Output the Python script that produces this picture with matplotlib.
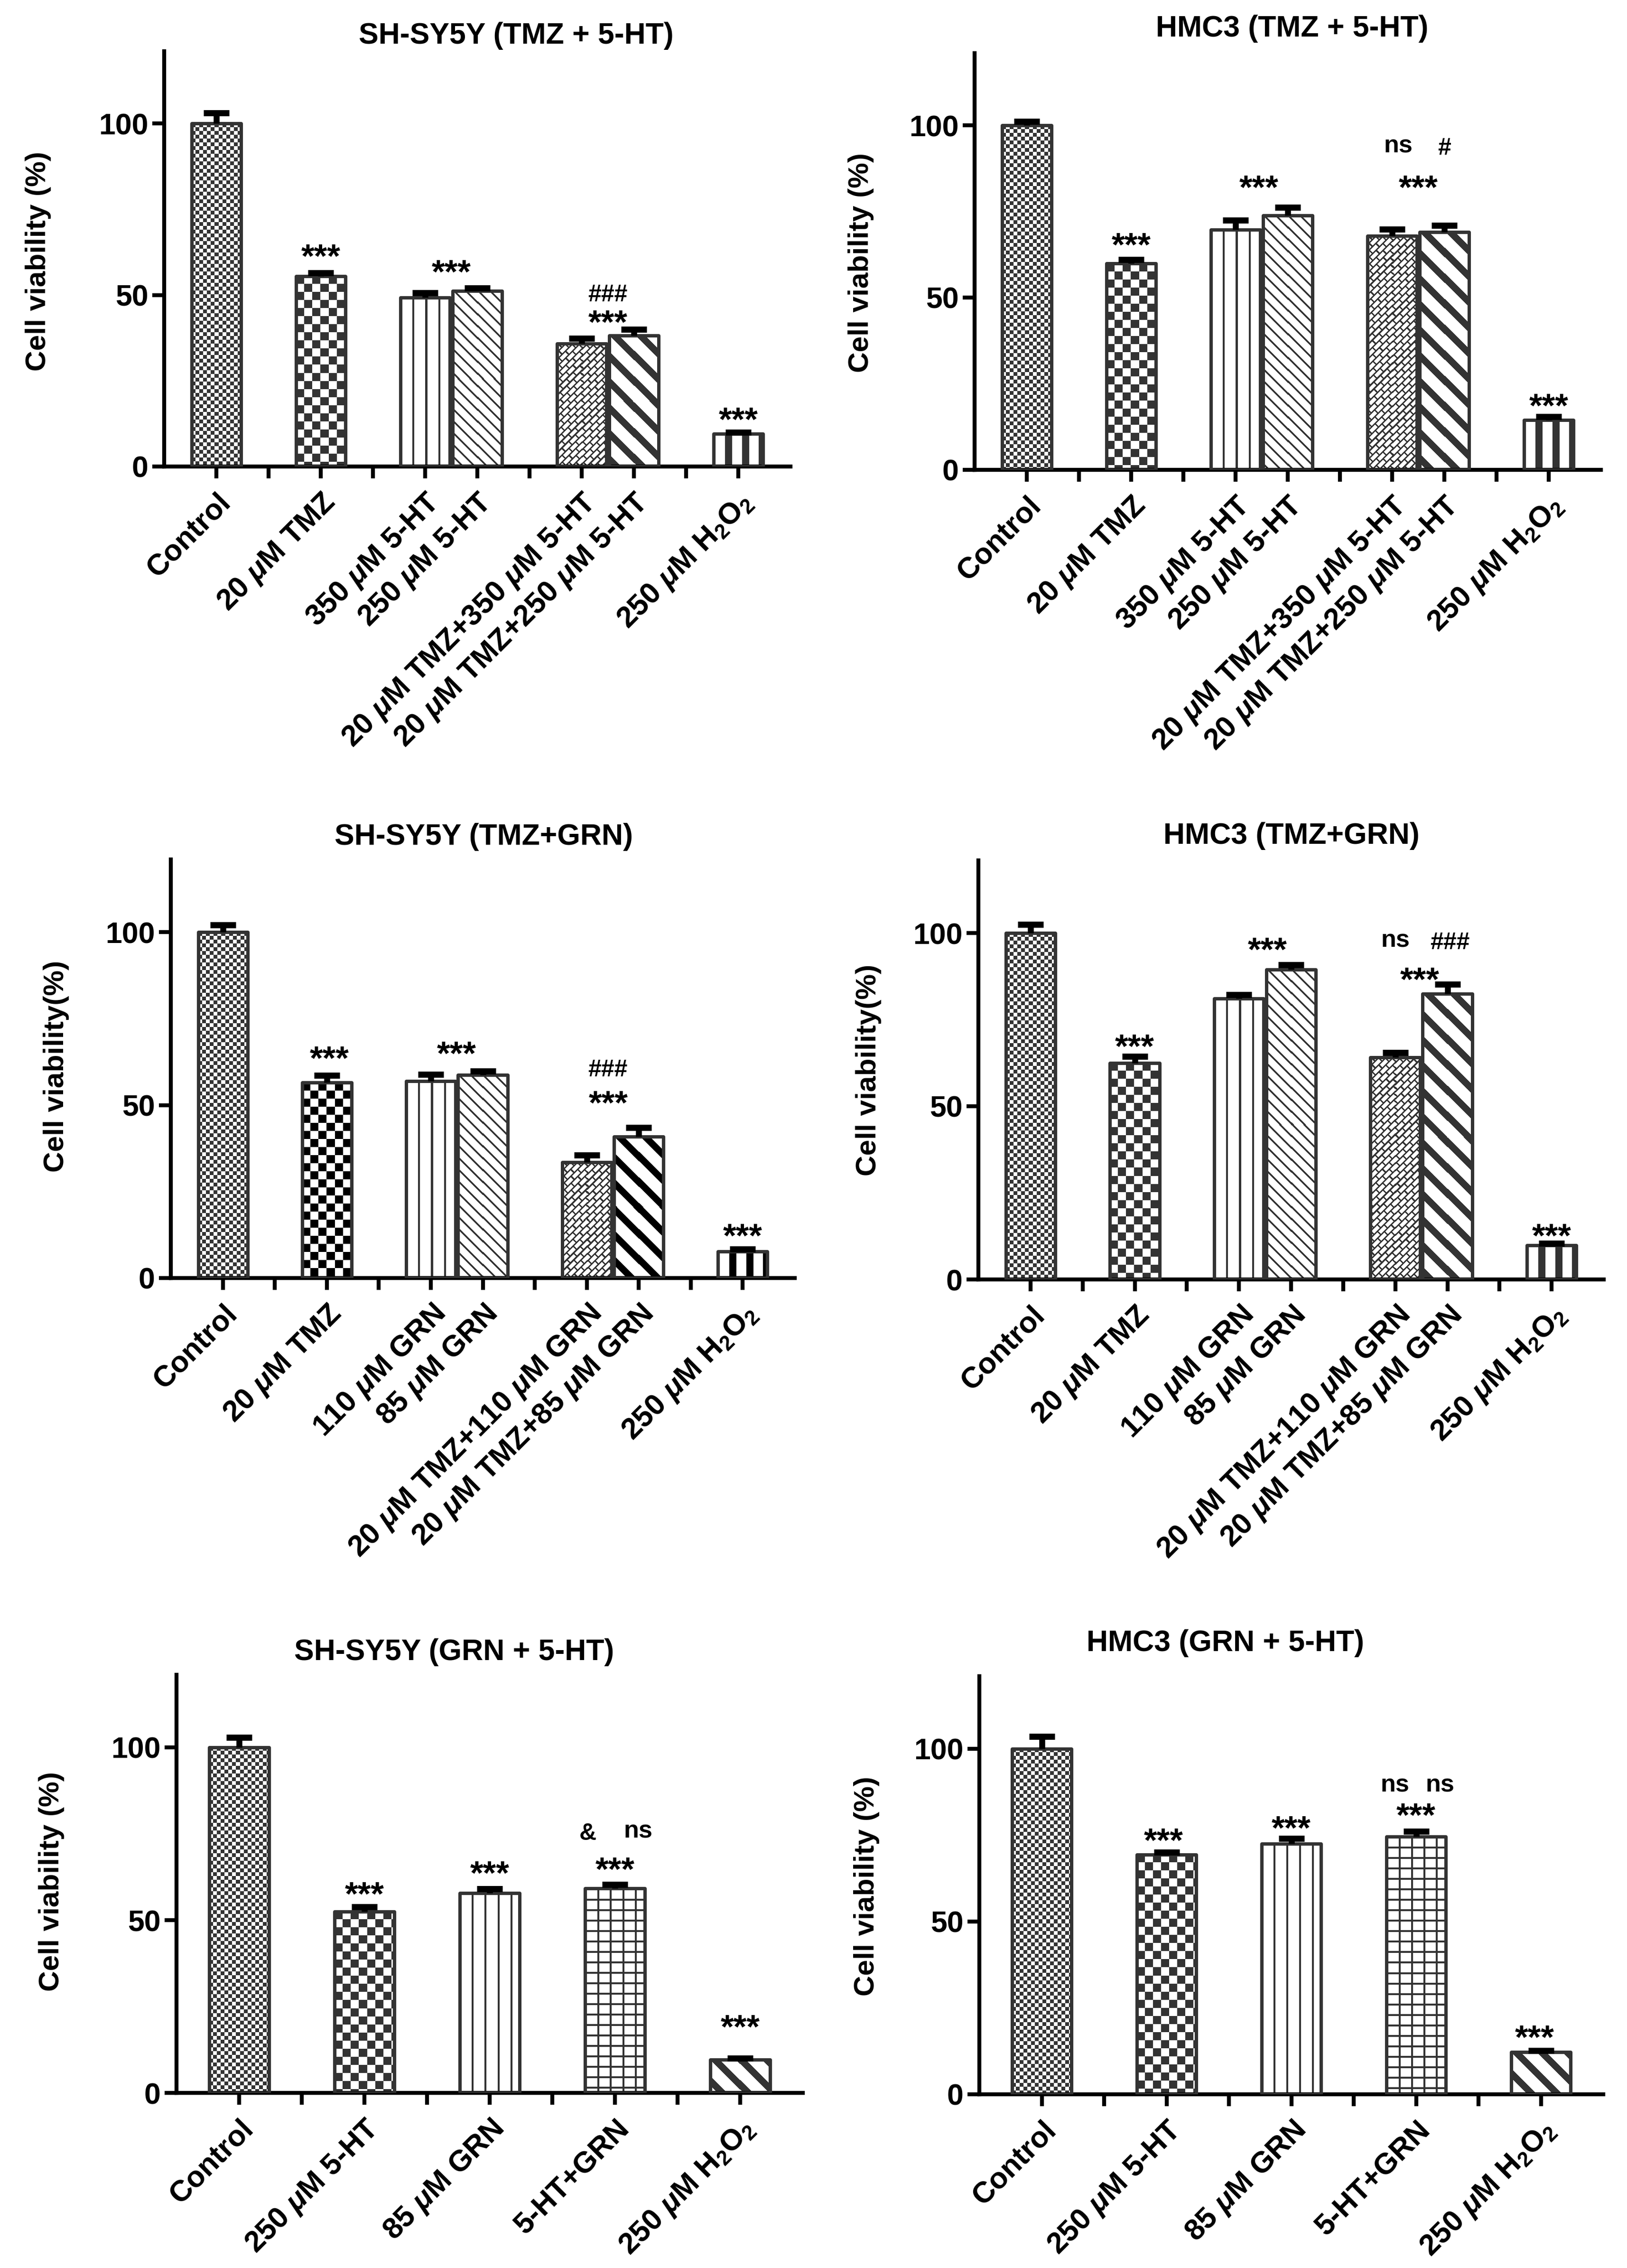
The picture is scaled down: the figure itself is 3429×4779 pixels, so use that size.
import numpy as np
import matplotlib
matplotlib.use('Agg')
import matplotlib.pyplot as plt
from matplotlib.colors import to_rgb

plt.rcParams['font.family'] = ['Liberation Sans', 'DejaVu Sans']
plt.rcParams['font.weight'] = 'bold'
plt.rcParams['mathtext.fontset'] = 'custom'
plt.rcParams['mathtext.rm'] = 'Liberation Sans'
plt.rcParams['mathtext.it'] = 'Liberation Sans:italic'
plt.rcParams['mathtext.bf'] = 'Liberation Sans:bold'

W_PX, H_PX, DPI = 3429, 4779, 300

# ------------------------------------------------------------------ data
titles = ['SH-SY5Y (TMZ + 5-HT)', 'HMC3 (TMZ + 5-HT)',
          'SH-SY5Y (TMZ+GRN)', 'HMC3 (TMZ+GRN)',
          'SH-SY5Y (GRN + 5-HT)', 'HMC3 (GRN + 5-HT)']
ylabels = ['Cell viability (%)', 'Cell viability (%)',
           'Cell viability(%)', 'Cell viability(%)',
           'Cell viability (%)', 'Cell viability (%)']

labels_tmz_5ht = ['Control', r'20 $\mu$M TMZ', r'350 $\mu$M 5-HT', r'250 $\mu$M 5-HT',
                  r'20 $\mu$M TMZ+350 $\mu$M 5-HT', r'20 $\mu$M TMZ+250 $\mu$M 5-HT',
                  r'250 $\mu$M H$_2$O$_2$']
labels_tmz_grn = ['Control', r'20 $\mu$M TMZ', r'110 $\mu$M GRN', r'85 $\mu$M GRN',
                  r'20 $\mu$M TMZ+110 $\mu$M GRN', r'20 $\mu$M TMZ+85 $\mu$M GRN',
                  r'250 $\mu$M H$_2$O$_2$']
labels_grn_5ht = ['Control', r'250 $\mu$M 5-HT', r'85 $\mu$M GRN', '5-HT+GRN',
                  r'250 $\mu$M H$_2$O$_2$']
groups7 = [1, 1, 2, 2, 1]
groups5 = [1, 1, 1, 1, 1]

mean_p1 = [100, 55.5, 49.2, 51.2, 35.8, 38.2, 9.5]
sem_p1 = [3.0, 1.0, 1.4, 0.8, 1.5, 1.8, 0.5]
mean_p2 = [100, 59.9, 69.7, 73.8, 67.9, 69.0, 14.5]
sem_p2 = [1.1, 1.1, 2.8, 2.4, 1.9, 1.9, 0.9]
mean_p3 = [100, 56.5, 56.9, 58.7, 33.5, 40.9, 7.7]
sem_p3 = [2.0, 2.1, 1.9, 1.1, 2.0, 2.6, 0.7]
mean_p4 = [100, 62.5, 81.1, 89.5, 64.1, 82.5, 9.9]
sem_p4 = [2.5, 1.9, 1.1, 1.3, 1.4, 2.7, 0.5]
mean_p5 = [100, 52.5, 57.8, 59.2, 9.6]
sem_p5 = [2.9, 1.3, 1.3, 1.1, 0.4]
mean_p6 = [100, 69.4, 72.5, 74.6, 12.2]
sem_p6 = [3.6, 0.7, 1.5, 1.5, 0.4]

pat7 = ['fine_check', 'check', 'vlines', 'dlines', 'brick', 'thick_diag', 'vstripes']
pat5 = ['fine_check', 'check', 'vlines', 'grid', 'thick_diag']

# significance marks: (text, bar indices, y value)
marks_p1 = [('***', (1,), 63.6), ('***', (2, 3), 59.0), ('###', (4, 5), 50.6),
            ('***', (4, 5), 44.3), ('***', (6,), 15.9)]
marks_p2 = [('***', (1,), 67.5), ('***', (2, 3), 84.2), ('***', (4, 5), 84.2),
            ('ns', (4,), 94.0), ('#', (5,), 94.0), ('***', (6,), 20.9)]
marks_p3 = [('***', (1,), 65.8), ('***', (2, 3), 67.1), ('###', (4, 5), 60.8),
            ('***', (4, 5), 52.8), ('***', (6,), 14.5)]
marks_p4 = [('***', (1,), 69.5), ('***', (2, 3), 97.4), ('ns', (4,), 97.8),
            ('###', (5,), 97.8), ('***', (4, 5), 88.8), ('***', (6,), 14.9)]
marks_p5 = [('***', (1,), 59.8), ('***', (2,), 65.9), ('***', (3,), 66.9),
            ('&', (3,), 75.7), ('ns', (3,), 75.7), ('***', (4,), 21.3)]
marks_p6 = [('***', (1,), 75.8), ('***', (2,), 79.3), ('***', (3,), 83.0),
            ('ns', (3,), 89.4), ('ns', (3,), 89.4), ('***', (4,), 18.8)]

# ------------------------------------------------------------------ layout (pixels)
layout = [
    dict(axes=(346, 1666, 983, 260), title=(1088, 92), ylab=(81, 551),
         mdx=[0, 0, 0, 0, 0]),
    dict(axes=(2054, 3374, 990, 264), title=(2723, 77), ylab=(1814, 554),
         mdx=[0, -0.05, 0, 0.12, 0, 0]),
    dict(axes=(360, 1675, 2693, 1964), title=(1020, 1780), ylab=(119, 2247),
         mdx=[0.05, 0, -0.1, -0.08, 0]),
    dict(axes=(2062, 3380, 2696, 1966), title=(2722, 1778), ylab=(1830, 2255),
         mdx=[0, 0.05, 0, 0.05, -0.03, 0]),
    dict(axes=(372, 1692, 4410, 3682), title=(957, 3498), ylab=(108, 3965),
         mdx=[0, 0, 0, -0.43, 0.37, 0]),
    dict(axes=(2064, 3379, 4413, 3685), title=(2583, 3479), ylab=(1827, 3975),
         mdx=[-0.05, 0, 0, -0.34, 0.38, -0.1]),
]

YMAX = 121
BW = 0.95
EDGE = '#333333'
DARK = '#333333'

mark_size = {'***': 17, 'ns': 12.5, '#': 12, '###': 12, '&': 12}
mark_dy = {'***': -5.3, 'ns': 0.0, '#': -1.2, '###': -1.2, '&': -1.2}


def make_pattern(kind, w, h, dark):
    c = np.arange(w, dtype=float)[None, :]
    r = np.arange(h, dtype=float)[:, None]
    if kind == 'fine_check':
        m = ((c // 8 + r // 8) % 2) == 0
    elif kind == 'check':
        m = ((c // 17 + r // 17) % 2) == 0
    elif kind == 'vlines':
        m = ((c + 2) % 27) < 4
    elif kind == 'dlines':
        m = ((c - r) % 25) < 5
    elif kind == 'brick':
        u = (c + r) / np.sqrt(2)
        v = (c - r) / np.sqrt(2)
        k = np.floor(u / 10.7)
        m = ((u % 10.7) < 3.0) | (((v + (k % 2) * 10.0) % 20.0) < 3.0)
    elif kind == 'thick_diag':
        m = ((c - r) % 54) < 20
    elif kind == 'vstripes':
        m = ((c - 24) % 35) < 15
    elif kind == 'grid':
        m = ((c % 26) < 4) | ((r % 22) < 4)
    else:
        m = np.zeros((h, w), bool)
    m = np.broadcast_to(m, (h, w))
    img = np.ones((h, w, 3))
    img[m] = to_rgb(dark)
    return img


def positions(groups):
    pos, p = [], 0
    for g in groups:
        for _ in range(g):
            pos.append(p)
            p += 1
        p += 1
    return pos, p - 1


fig = plt.figure(figsize=(W_PX / DPI, H_PX / DPI), dpi=DPI)

panels = [
    (labels_tmz_5ht, groups7, mean_p1, sem_p1, pat7, marks_p1, {}),
    (labels_tmz_5ht, groups7, mean_p2, sem_p2, pat7, marks_p2, {}),
    (labels_tmz_grn, groups7, mean_p3, sem_p3, pat7, marks_p3, {1: '#000000', 5: '#000000', 6: '#000000'}),
    (labels_tmz_grn, groups7, mean_p4, sem_p4, pat7, marks_p4, {}),
    (labels_grn_5ht, groups5, mean_p5, sem_p5, pat5, marks_p5, {}),
    (labels_grn_5ht, groups5, mean_p6, sem_p6, pat5, marks_p6, {}),
]

for i, (labels, groups, means, sems, pats, marks, darks) in enumerate(panels):
    L = layout[i]
    xl, xr, y0, y100 = L['axes']
    ytop = y0 - YMAX / 100.0 * (y0 - y100)
    ax = fig.add_axes([xl / W_PX, 1 - y0 / H_PX, (xr - xl) / W_PX, (y0 - ytop) / H_PX])
    pos, nslots = positions(groups)
    ax.set_xlim(-1, nslots)
    ax.set_ylim(0, YMAX)

    # patterned fills
    for j, (p, m) in enumerate(zip(pos, means)):
        a = ax.transData.transform((p - BW / 2, 0))
        b = ax.transData.transform((p + BW / 2, m))
        wpx = max(1, int(round(b[0] - a[0])))
        hpx = max(1, int(round(b[1] - a[1])))
        img = make_pattern(pats[j], wpx, hpx, darks.get(j, DARK))
        ax.imshow(img, extent=(p - BW / 2, p + BW / 2, 0, m), origin='upper',
                  interpolation='nearest', aspect='auto', zorder=2)

    ax.bar(pos, means, width=BW, facecolor='none', edgecolor=EDGE,
           linewidth=1.7, zorder=3, joinstyle='round')
    tops = np.array(means) + np.array(sems)
    ax.vlines(pos, means, tops, colors='black', linewidth=3, zorder=4)
    ax.plot(pos, tops, ls='none', marker='_', markersize=13,
            markeredgewidth=3.1, color='black', zorder=4)

    ax.set_xlim(-1, nslots)
    ax.set_ylim(0, YMAX)

    for s in ['top', 'right']:
        ax.spines[s].set_visible(False)
    for s in ['left', 'bottom']:
        ax.spines[s].set_linewidth(2.0)
        ax.spines[s].set_color('black')

    ax.set_yticks([0, 50, 100])
    ax.set_yticklabels(['0', '50', '100'], fontsize=15, fontweight='bold')
    xt = [''] * nslots
    for p, lab in zip(pos, labels):
        xt[p] = lab
    ax.set_xticks(range(nslots))
    ax.set_xticklabels(xt, rotation=45, ha='right', va='top',
                       rotation_mode='anchor', fontsize=15, fontweight='bold')
    ax.tick_params(axis='both', direction='out', width=2, color='black')
    ax.tick_params(axis='y', length=6, pad=2)
    ax.tick_params(axis='x', length=6, pad=5)

    for k, (txt, idx, yv) in enumerate(marks):
        x = np.mean([pos[b] for b in idx]) + L['mdx'][k]
        ax.annotate(txt, (x, yv), xytext=(0, mark_dy[txt]), textcoords='offset points',
                    ha='center', va='center', fontsize=mark_size[txt],
                    fontweight='bold', annotation_clip=False, zorder=5)

    tx, tb = L['title']
    fig.text(tx / W_PX, 1 - tb / H_PX, titles[i], ha='center', va='baseline',
             fontsize=15, fontweight='bold')
    lx, ly = L['ylab']
    fig.text(lx / W_PX, 1 - ly / H_PX, ylabels[i], ha='center', va='center',
             rotation=90, fontsize=14.5, fontweight='bold')

fig.savefig('out.png', dpi=DPI, facecolor='white')
